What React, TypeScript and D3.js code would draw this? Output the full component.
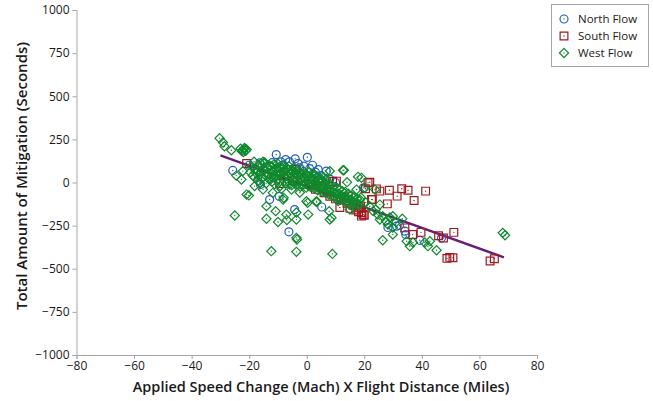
import { useEffect, useRef } from "react";
import * as d3 from "d3";

// axis ticks
const xTicks = [-80, -60, -40, -20, 0, 20, 40, 60, 80];
const yTicks = [-1000, -750, -500, -250, 0, 250, 500, 750, 1000];

const seriesNames = ["North Flow", "South Flow", "West Flow"];

// [speed change x distance, mitigation seconds]
const northFlow: [number, number][] = [
  [-25.7, 70], [-16.3, 114], [-10.6, 162], [-7.3, 133], [0.2, 146], [-4, 137],
  [-11.5, 27], [-16.1, -12], [-12.9, -99], [-9.6, -80], [-6.2, -286], [-4.2, -157],
  [5.2, -142], [6.8, 66], [-14, 90], [-12, 115], [-8, 100], [-6, 120], [-3, 110],
  [-1, 95], [1, 80], [3, 60], [5, 40], [-18, 80], [-20, 100], [8, 20], [10, 0],
  [2, 100], [-2.5, 85], [-9, 120], [4, 75], [19.7, -31], [28.2, -261], [31.2, -253],
  [32.2, -249], [34.4, -302], [34.1, -282], [39.3, -335], [46.8, -322],
];

const southFlow: [number, number][] = [
  [-20.9, 110], [-9.4, -6], [-3.8, 75], [9, 7], [11.5, -145], [-2, 30], [1, -10],
  [3, -40], [5, -20], [6, -60], [8, -80], [10, -95], [12, -100], [14, -120],
  [15, -150], [16, -130], [17, -160], [18, -170], [19, -175], [20, -190], [13, -90],
  [7, -50], [-5, 10], [-8, 40], [4, 10], [21.9, 2], [25.4, -50], [28.7, -45],
  [31.4, -79], [33, -36], [35.2, -45], [41.3, -50], [22.8, -99], [28, -124],
  [37.3, -104], [20.4, -36], [18.7, -137], [19, -195], [34.1, -263], [36.8, -302],
  [39.7, -289], [45.8, -309], [47.5, -322], [51.1, -289], [49.7, -434], [48.7, -440],
  [50.8, -436], [63.7, -455], [65.2, -442], [21.3, -2], [24.2, -37], [22.5, -99],
  [10.3, 8], [14.4, -79], [18.4, -147], [19.6, -186],
];

const westFlow: [number, number][] = [
  // upper left group
  [-30.3, 257], [-29.1, 232], [-26.2, 187], [-28.6, 210], [-23, 196], [-22.3, 188],
  [-21.6, 200], [-21.2, 184], [-22, 177], [-20.9, 191], [-22.6, 182], [-21.8, 193],
  [-22.2, 66], [-22.7, 17], [-18.1, -21], [-20.1, -75], [-16.3, -2], [-16.3, 46],
  [-14.6, 116], [-5.9, -12], [-8.8, -37], [-5.3, -41], [-2.4, -58], [-24.5, 40],
  // scatter below the band
  [-25, -191], [-14, -137], [-14, -210], [-10.8, -166], [-10, -229], [-7.1, -186],
  [-6.9, -218], [-3.6, -215], [-3.6, -174], [0.5, -186], [0.3, -118], [3.4, -108],
  [8, -215], [-3.6, -321], [-3.4, -331], [-12.3, -398], [-3.6, -402], [8.9, -414],
  [-8.2, -99], [-20.9, -70], [-8, -89], [-11.8, -60], [-15.2, -40],
  // above the band, centre right
  [8, 66], [12.6, 71], [17.8, 33], [14, 2], [20.2, -31], [17.3, -41], [10.9, -108],
  [7.8, -166], [-0.1, -108], [3.4, -114], [15, -157], [17.8, -128], [8.6, -205],
  // steep right arm
  [19, 27], [23.7, -41], [23.1, -166], [24.7, -186], [25.4, -215], [26.4, -195],
  [27.5, -224], [28.9, -203], [29.9, -195], [28.2, -244], [29.9, -261], [29.9, -302],
  [26.4, -335], [34.7, -340], [35.8, -369], [36.9, -348], [41, -348], [42.1, -369],
  [45.1, -393], [42.8, -340], [68.1, -292], [68.9, -306], [12.9, 71], [18.8, -87],
  [20.5, -116], [21.9, -139], [24, -157], [25.4, -128], [31, -230], [33.2, -210],
  // dense band
  [-19.2, 95], [-19.6, 60], [-18.8, 40], [-18.3, 120], [-17.9, 80], [-18.1, 30],
  [-17.6, 55], [-17.2, 70], [-16.8, 100], [-16.9, 10], [-16.1, 90], [-15.8, 60],
  [-15.6, 25], [-15.2, 120], [-14.9, 110], [-14.7, 70], [-14.3, 40], [-14.1, -5],
  [-13.8, 85], [-13.6, 50], [-13.2, 20], [-13.1, 100], [-12.7, 75], [-12.5, 95],
  [-12.3, 35], [-12.1, 5], [-11.7, 60], [-11.4, 105], [-11.2, 30], [-11.1, -10],
  [-10.8, 80], [-10.5, 45], [-10.3, 15], [-10.1, 110], [-9.8, 70], [-9.6, 90],
  [-9.4, 40], [-9.2, -20], [-8.9, 55], [-8.6, 85], [-8.4, 20], [-8.2, 100],
  [-7.9, 60], [-7.7, 30], [-7.5, 75], [-7.2, -5], [-6.9, 45], [-6.7, 80],
  [-6.4, 10], [-6.2, 95], [-5.9, 50], [-5.7, 25], [-5.4, 70], [-5.2, -15],
  [-4.9, 40], [-4.7, 65], [-4.4, 5], [-4.2, 85], [-3.9, 30], [-3.7, 55],
  [-3.4, -10], [-3.2, 75], [-2.9, 35], [-2.7, 0], [-2.4, 60], [-2.2, -25],
  [-1.9, 20], [-1.7, 45], [-1.4, -15], [-1.2, 65], [-0.9, 25], [-0.7, -5],
  [-0.4, 50], [-0.2, -30], [0.1, 10], [0.3, 40], [0.6, -20], [0.8, 60],
  [1.1, 5], [1.3, -25], [1.6, 30], [1.8, 50], [2.1, -10], [2.3, 20],
  [2.6, -35], [2.8, 45], [3.1, 0], [3.3, -20], [3.6, 35], [3.8, -45],
  [4.1, -15], [4.3, 15], [4.6, -40], [4.8, 25], [5.1, -20], [5.3, 5],
  [5.6, -55], [5.8, 30], [6.1, -30], [6.3, -5], [6.6, -60], [6.8, 20],
  [7.1, -35], [7.4, -10], [7.7, -70], [8.1, -45], [8.4, -15], [8.7, -75],
  [9.1, -50], [9.4, -25], [9.7, -85], [10.1, -60], [10.4, -30], [10.7, -90],
  [11.1, -65], [11.4, -40], [11.7, -100], [12.1, -75], [12.4, -50], [12.7, -105],
  [13.1, -85], [13.4, -55], [13.7, -115], [14.1, -90], [14.4, -65], [14.7, -125],
  [15.1, -100], [15.4, -75], [15.7, -135], [16.1, -110], [16.5, -85], [17.1, -120],
  [17.5, -95], [18.1, -130], [18.5, -100],
];

// fitted line
const fitIntercept = -23;
const fitSlope = -6.0;
const fitRange = [-30, 68.5];

const colors = ["#1f5fbf", "#a3191f", "#0e8a2c"];
const fitColor = "#661f78";
const font = "'Open Sans', 'Noto Sans', sans-serif";

function App() {
  const svgRef = useRef<SVGSVGElement>(null);
  const width = 653, height = 401;

  useEffect(() => {
    const svg = d3.select(svgRef.current);
    svg.selectAll("*").remove();

    const x = d3.scaleLinear().domain([-80, 80]).range([76.5, 537]);
    const y = d3.scaleLinear().domain([-1000, 1000]).range([355, 10]);

    const xAxis = svg.append("g")
      .attr("transform", `translate(0,${y(-1000)})`)
      .call(d3.axisBottom(x).tickValues(xTicks).tickSize(4).tickPadding(2).tickFormat(d3.format("d")));
    const yAxis = svg.append("g")
      .attr("transform", `translate(${x(-80)},0)`)
      .call(d3.axisLeft(y).tickValues(yTicks).tickSize(4).tickPadding(3).tickFormat(d3.format("d")));

    [xAxis, yAxis].forEach(ax => {
      ax.select(".domain").attr("stroke", "#a6a6a6");
      ax.selectAll(".tick line").attr("stroke", "#a6a6a6");
      ax.selectAll(".tick text")
        .attr("fill", "#1a1a1a")
        .style("font-family", font)
        .style("font-size", "12px");
    });

    // axis titles
    svg.append("text")
      .attr("x", 321)
      .attr("y", 392)
      .attr("text-anchor", "middle")
      .style("font-family", font)
      .style("font-size", "14.5px")
      .style("font-weight", 600)
      .attr("fill", "#1a1a1a")
      .text("Applied Speed Change (Mach) X Flight Distance (Miles)");

    svg.append("text")
      .attr("transform", `translate(27,176) rotate(-90)`)
      .attr("text-anchor", "middle")
      .style("font-family", font)
      .style("font-size", "15px")
      .style("font-weight", 600)
      .attr("fill", "#1a1a1a")
      .text("Total Amount of Mitigation (Seconds)");

    // regression line
    svg.append("line")
      .attr("x1", x(fitRange[0]))
      .attr("y1", y(fitIntercept + fitSlope * fitRange[0]))
      .attr("x2", x(fitRange[1]))
      .attr("y2", y(fitIntercept + fitSlope * fitRange[1]))
      .attr("stroke", fitColor)
      .attr("stroke-width", 2.5);

    // circle, square, square turned into a diamond
    const symbols = [d3.symbolCircle, d3.symbolSquare, d3.symbolSquare];
    const sizes = [50, 60, 42];

    const drawMarker = (g: any, i: number) => {
      g.append("path")
        .attr("d", d3.symbol(symbols[i], sizes[i])())
        .attr("transform", i === 2 ? "rotate(45)" : null)
        .attr("fill", "none")
        .attr("stroke", colors[i])
        .attr("stroke-width", 1.2);
      g.append("circle").attr("r", 0.7).attr("fill", colors[i]);
    };

    [northFlow, southFlow, westFlow].forEach((data, i) => {
      svg.append("g")
        .selectAll("g")
        .data(data)
        .join("g")
        .attr("transform", d => `translate(${x(d[0])},${y(d[1])})`)
        .each(function () { drawMarker(d3.select(this), i); });
    });

    // legend
    const legend = svg.append("g");
    legend.append("rect")
      .attr("x", 551.5).attr("y", 4.5)
      .attr("width", 97).attr("height", 62)
      .attr("fill", "white")
      .attr("stroke", "#a6a6a6");
    seriesNames.forEach((name, i) => {
      const row = legend.append("g").attr("transform", `translate(564,${19 + i * 17})`);
      drawMarker(row, i);
      row.append("text")
        .attr("x", 14).attr("y", 4)
        .style("font-family", font)
        .style("font-size", "11.5px")
        .attr("fill", "#1a1a1a")
        .text(name);
    });
  }, []);

  return (
    <div style={{ position: "absolute", left: 0, top: 0, background: "white" }}>
      <svg ref={svgRef} width={width} height={height}></svg>
    </div>
  );
}

export default App;
